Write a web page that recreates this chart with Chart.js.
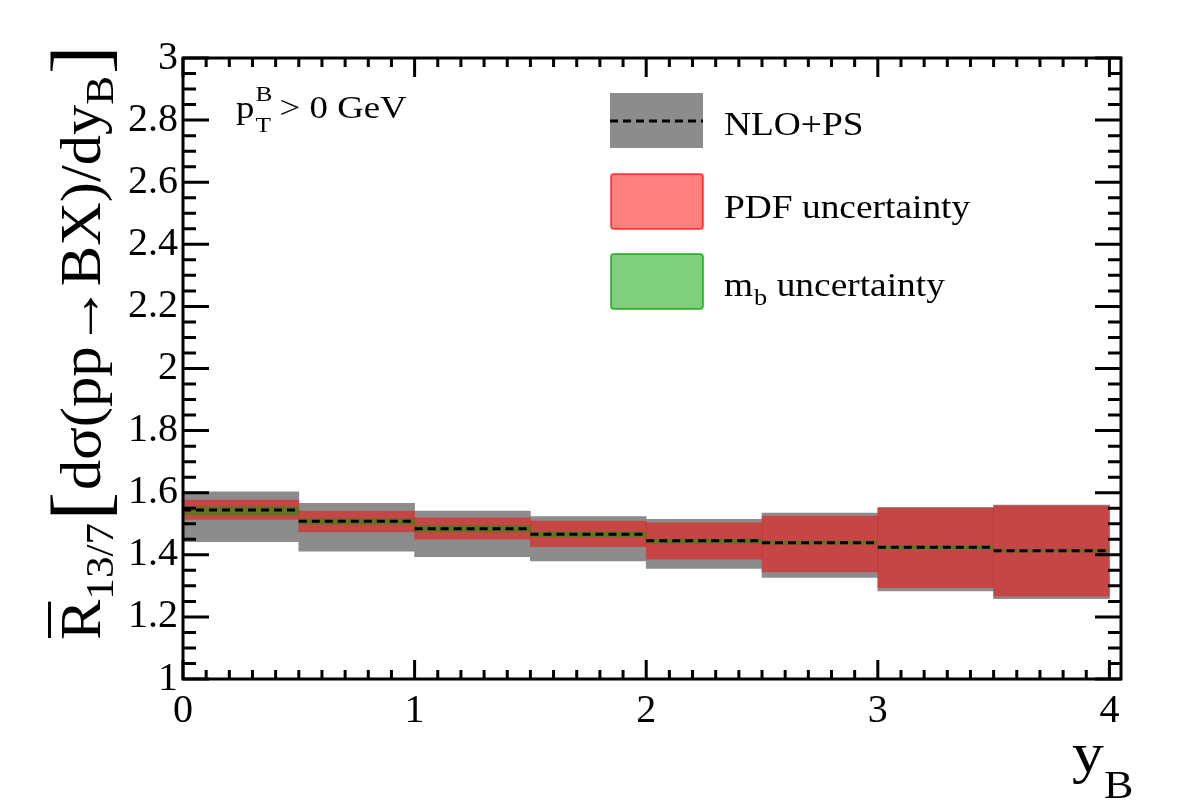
<!DOCTYPE html>
<html>
<head>
<meta charset="utf-8">
<script src="https://cdn.jsdelivr.net/npm/chart.js@4"></script>
<style>
  html, body { margin: 0; padding: 0; background: #fff; }
  #wrap { width: 1182px; height: 805px; }
</style>
</head>
<body>
<div id="wrap"><canvas id="ratioChart"></canvas></div>
<script>
// bins in y_B, width 0.5
var binLo = [0, 0.5, 1, 1.5, 2, 2.5, 3, 3.5];
var binHi = [0.5, 1, 1.5, 2, 2.5, 3, 3.5, 4];

// NLO+PS central value
var central = [1.544, 1.508, 1.484, 1.466, 1.445, 1.439, 1.424, 1.413];
// total (scale) band - grey
var scaleLo = [1.442, 1.412, 1.394, 1.380, 1.356, 1.327, 1.284, 1.259];
var scaleHi = [1.603, 1.566, 1.541, 1.523, 1.514, 1.534, 1.553, 1.560];
// PDF uncertainty - red
var pdfLo = [1.514, 1.474, 1.450, 1.426, 1.386, 1.345, 1.294, 1.267];
var pdfHi = [1.576, 1.541, 1.519, 1.509, 1.503, 1.525, 1.550, 1.558];
// m_b uncertainty - green
var mbLo = [1.528, 1.499, 1.474, 1.458, 1.437, 1.434, 1.420, 1.409];
var mbHi = [1.555, 1.517, 1.494, 1.474, 1.451, 1.444, 1.428, 1.417];

var xTicks = [0, 1, 2, 3, 4];
var yTicks = [1, 1.2, 1.4, 1.6, 1.8, 2, 2.2, 2.4, 2.6, 2.8, 3];

var FONT = 'Liberation Serif';

function band(lo, hi) {
  var out = [];
  for (var i = 0; i < binLo.length; i++) {
    out.push({ x: (binLo[i] + binHi[i]) / 2, y: [lo[i], hi[i]] });
  }
  return out;
}

function centralLine() {
  var out = [];
  for (var i = 0; i < binLo.length; i++) {
    out.push({ x: binLo[i], y: central[i] });
    out.push({ x: binHi[i], y: central[i] });
    out.push({ x: binHi[i], y: null });
  }
  return out;
}

// draws a run of text pieces, each {t, size, dy}, stretched horizontally by sx
function drawRich(ctx, parts, x, y, sx) {
  ctx.save();
  ctx.translate(x, y);
  ctx.scale(sx, 1);
  var cx = 0;
  parts.forEach(function (p) {
    ctx.font = p.size + 'px "' + FONT + '"';
    ctx.fillText(p.t, cx, p.dy || 0);
    cx += ctx.measureText(p.t).width;
  });
  ctx.restore();
  return cx * sx;
}

var rootFrame = {
  id: 'rootFrame',
  afterDatasetsDraw: function (chart) {
    var ctx = chart.ctx, a = chart.chartArea;
    var xs = chart.scales.x, ys = chart.scales.y;
    ctx.save();
    ctx.strokeStyle = '#000';
    ctx.lineWidth = 3;
    ctx.beginPath();
    for (var i = 0; i <= 40; i++) {
      var px = xs.getPixelForValue(i / 10);
      var len = i % 10 === 0 ? 19 : 9;
      ctx.moveTo(px, a.bottom); ctx.lineTo(px, a.bottom - len);
      ctx.moveTo(px, a.top); ctx.lineTo(px, a.top + len);
    }
    for (var j = 0; j <= 40; j++) {
      var py = ys.getPixelForValue(1 + j * 0.05);
      var l2 = j % 4 === 0 ? 26 : 13;
      ctx.moveTo(a.left, py); ctx.lineTo(a.left + l2, py);
      ctx.moveTo(a.right, py); ctx.lineTo(a.right - l2, py);
    }
    ctx.stroke();
    ctx.strokeRect(a.left, a.top, a.right - a.left, a.bottom - a.top);
    ctx.restore();
  },
  afterDraw: function (chart) {
    var ctx = chart.ctx;
    ctx.save();
    ctx.fillStyle = '#000';
    ctx.textBaseline = 'alphabetic';

    // y axis title, rotated
    var sx = 1.08;
    ctx.save();
    ctx.translate(100, 640);
    ctx.rotate(-Math.PI / 2);
    var w = drawRich(ctx, [{ t: 'R', size: 56 }], 0, 0, sx);
    ctx.fillRect(2, -52, w - 4, 3);
    var w2 = drawRich(ctx, [{ t: '13/7', size: 40, dy: 13 }], w, 0, sx);
    var w3 = drawRich(ctx, [{ t: '[', size: 80, dy: 6 }], w + w2 + 2, 0, sx);
    var start = w + w2 + w3 + 4;
    var w4 = drawRich(ctx, [{ t: 'd\u03c3(pp\u2192BX)/dy', size: 56 }], start, 0, sx);
    var w5 = drawRich(ctx, [{ t: 'B', size: 40, dy: 13 }], start + w4, 0, sx);
    drawRich(ctx, [{ t: ']', size: 80, dy: 6 }], start + w4 + w5 + 2, 0, sx);
    ctx.restore();

    // x axis title
    var wy = drawRich(ctx, [{ t: 'y', size: 58 }], 1072, 772, 1.1);
    drawRich(ctx, [{ t: 'B', size: 40 }], 1072 + wy, 798, 1.1);

    // kinematic label
    var wp = drawRich(ctx, [{ t: 'p', size: 32 }], 236, 118, 1.15);
    drawRich(ctx, [{ t: 'B', size: 22 }], 236 + wp + 1, 101, 1.15);
    drawRich(ctx, [{ t: 'T', size: 22 }], 236 + wp + 1, 132, 1.15);
    drawRich(ctx, [{ t: ' > 0 GeV', size: 32 }], 236 + wp + 16, 118, 1.15);

    // legend
    ctx.fillStyle = '#8c8c8c';
    ctx.fillRect(610, 93, 93, 55);
    ctx.strokeStyle = '#000';
    ctx.lineWidth = 3;
    ctx.setLineDash([8, 5]);
    ctx.beginPath(); ctx.moveTo(610, 121); ctx.lineTo(703, 121); ctx.stroke();
    ctx.setLineDash([]);

    ctx.lineWidth = 2;
    ctx.fillStyle = 'rgba(255,0,0,0.5)';
    ctx.strokeStyle = 'rgba(255,0,0,0.6)';
    ctx.beginPath(); ctx.roundRect(611, 174, 92, 55, 3); ctx.fill(); ctx.stroke();
    ctx.fillStyle = 'rgba(0,160,0,0.5)';
    ctx.strokeStyle = 'rgba(0,160,0,0.65)';
    ctx.beginPath(); ctx.roundRect(611, 254, 92, 55, 3); ctx.fill(); ctx.stroke();

    ctx.fillStyle = '#000';
    drawRich(ctx, [{ t: 'NLO+PS', size: 34 }], 724, 135, 1.1);
    drawRich(ctx, [{ t: 'PDF uncertainty', size: 34 }], 724, 218, 1.1);
    var wm = drawRich(ctx, [{ t: 'm', size: 34 }], 724, 296, 1.1);
    var wb = drawRich(ctx, [{ t: 'b', size: 24 }], 724 + wm + 1, 305, 1.1);
    drawRich(ctx, [{ t: ' uncertainty', size: 34 }], 724 + wm + wb + 1, 296, 1.1);
    ctx.restore();
  }
};

var ctx = document.getElementById('ratioChart').getContext('2d');

new Chart(ctx, {
  type: 'bar',
  data: {
    datasets: [{
      type: 'line',
      label: 'NLO+PS',
      data: centralLine(),
      borderColor: '#000',
      borderWidth: 3,
      borderDash: [8, 5],
      pointRadius: 0,
      spanGaps: false,
      order: 1
    }, {
      label: 'm_b uncertainty',
      data: band(mbLo, mbHi),
      backgroundColor: 'rgba(0,160,0,0.5)',
      grouped: false,
      barPercentage: 1,
      categoryPercentage: 1,
      order: 2
    }, {
      label: 'PDF uncertainty',
      data: band(pdfLo, pdfHi),
      backgroundColor: 'rgba(255,0,0,0.5)',
      grouped: false,
      barPercentage: 1,
      categoryPercentage: 1,
      order: 3
    }, {
      label: 'total',
      data: band(scaleLo, scaleHi),
      backgroundColor: '#8c8c8c',
      grouped: false,
      barPercentage: 1,
      categoryPercentage: 1,
      order: 4
    }]
  },
  options: {
    responsive: true,
    maintainAspectRatio: false,
    animation: false,
    layout: { padding: { left: 0, top: 58, right: 61, bottom: 0 } },
    plugins: {
      legend: { display: false },
      tooltip: { enabled: false }
    },
    scales: {
      x: {
        type: 'linear',
        min: 0,
        max: 4.05,
        offset: false,
        afterFit: function (s) { s.height = 126; },
        afterBuildTicks: function (s) { s.ticks = xTicks.map(function (v) { return { value: v }; }); },
        grid: { display: false, drawTicks: false, offset: false },
        border: { display: false },
        ticks: {
          padding: 8,
          maxRotation: 0,
          color: '#000',
          font: { family: FONT, size: 40 },
          callback: function (v) { return String(v); }
        }
      },
      y: {
        min: 1,
        max: 3,
        afterFit: function (s) { s.width = 183; },
        afterBuildTicks: function (s) { s.ticks = yTicks.map(function (v) { return { value: v }; }); },
        grid: { display: false, drawTicks: false },
        border: { display: false },
        ticks: {
          padding: 5,
          color: '#000',
          font: { family: FONT, size: 40 },
          callback: function (v) { return String(Math.round(v * 10) / 10); }
        }
      }
    }
  },
  plugins: [rootFrame]
});
</script>
</body>
</html>
